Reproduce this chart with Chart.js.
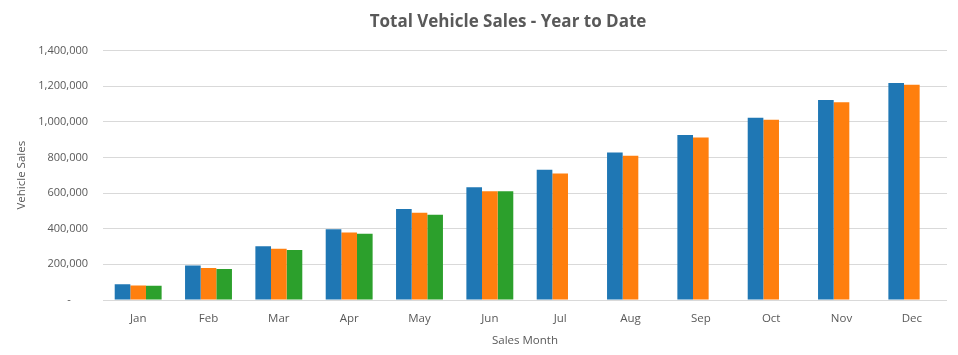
<!DOCTYPE html>
<html>
<head>
<meta charset="utf-8">
<script src="https://cdn.jsdelivr.net/npm/chart.js@4"></script>
<style>
  html, body { margin: 0; padding: 0; background: #fff; }
  #wrap { width: 958px; height: 355px; }
</style>
</head>
<body>
<div id="wrap"><canvas id="salesChart"></canvas></div>
<script>
const months = ["Jan", "Feb", "Mar", "Apr", "May", "Jun", "Jul", "Aug", "Sep", "Oct", "Nov", "Dec"];

const seriesA = [88000, 193000, 302000, 397000, 511000, 632000, 730000, 828000, 925000, 1022000, 1122000, 1217000];
const seriesB = [82000, 180000, 287000, 378000, 489000, 610000, 710000, 809000, 912000, 1011000, 1109000, 1208000];
const seriesC = [80000, 174000, 281000, 372000, 478000, 610000, null, null, null, null, null, null];

const seriesNames = ["Series 1", "Series 2", "Series 3"];
const barColors = ["#1f77b4", "#ff7f0e", "#2ca02c"];

const fontFamily = "'Open Sans', 'Noto Sans', sans-serif";
const textColor = "#595959";

// the title in the original sits a bit left of the plot centre
const titleShift = {
  id: "titleShift",
  afterLayout(chart) {
    const t = chart.titleBlock;
    if (t) { t.left -= 17; t.right -= 17; }
  }
};

const ctx = document.getElementById("salesChart").getContext("2d");

new Chart(ctx, {
  type: "bar",
  data: {
    labels: months,
    datasets: [seriesA, seriesB, seriesC].map((vals, i) => ({
      label: seriesNames[i],
      data: vals,
      backgroundColor: barColors[i],
      borderWidth: 0
    }))
  },
  plugins: [titleShift],
  options: {
    responsive: true,
    maintainAspectRatio: false,
    animation: false,
    layout: { padding: { right: 11 } },
    datasets: {
      bar: { categoryPercentage: 0.667, barPercentage: 1 }
    },
    plugins: {
      legend: { display: false },
      tooltip: { enabled: false },
      title: {
        display: true,
        text: "Total Vehicle Sales - Year to Date",
        color: textColor,
        fullSize: false,
        font: { family: fontFamily, size: 17, weight: "bold" },
        padding: { top: 12, bottom: 18 }
      }
    },
    scales: {
      x: {
        grid: { display: false },
        border: { display: false },
        ticks: { color: textColor, font: { family: fontFamily, size: 11.5 }, padding: 4 },
        title: {
          display: true,
          text: "Sales Month",
          color: textColor,
          font: { family: fontFamily, size: 11.5 },
          padding: { top: 1, bottom: 7 }
        },
        afterFit: (scale) => { scale.height = 55; }
      },
      y: {
        min: 0,
        max: 1400000,
        grid: { color: "#d9d9d9", drawTicks: false },
        border: { display: false },
        ticks: {
          stepSize: 200000,
          color: textColor,
          font: { family: fontFamily, size: 11 },
          padding: 15,
          callback: (v) => v === 0 ? "-      " : v.toLocaleString("en-US")
        },
        title: {
          display: true,
          text: "Vehicle Sales",
          color: textColor,
          font: { family: fontFamily, size: 11.5 },
          padding: { top: 15 }
        },
        afterFit: (scale) => { scale.width = 103; }
      }
    }
  }
});
</script>
</body>
</html>
